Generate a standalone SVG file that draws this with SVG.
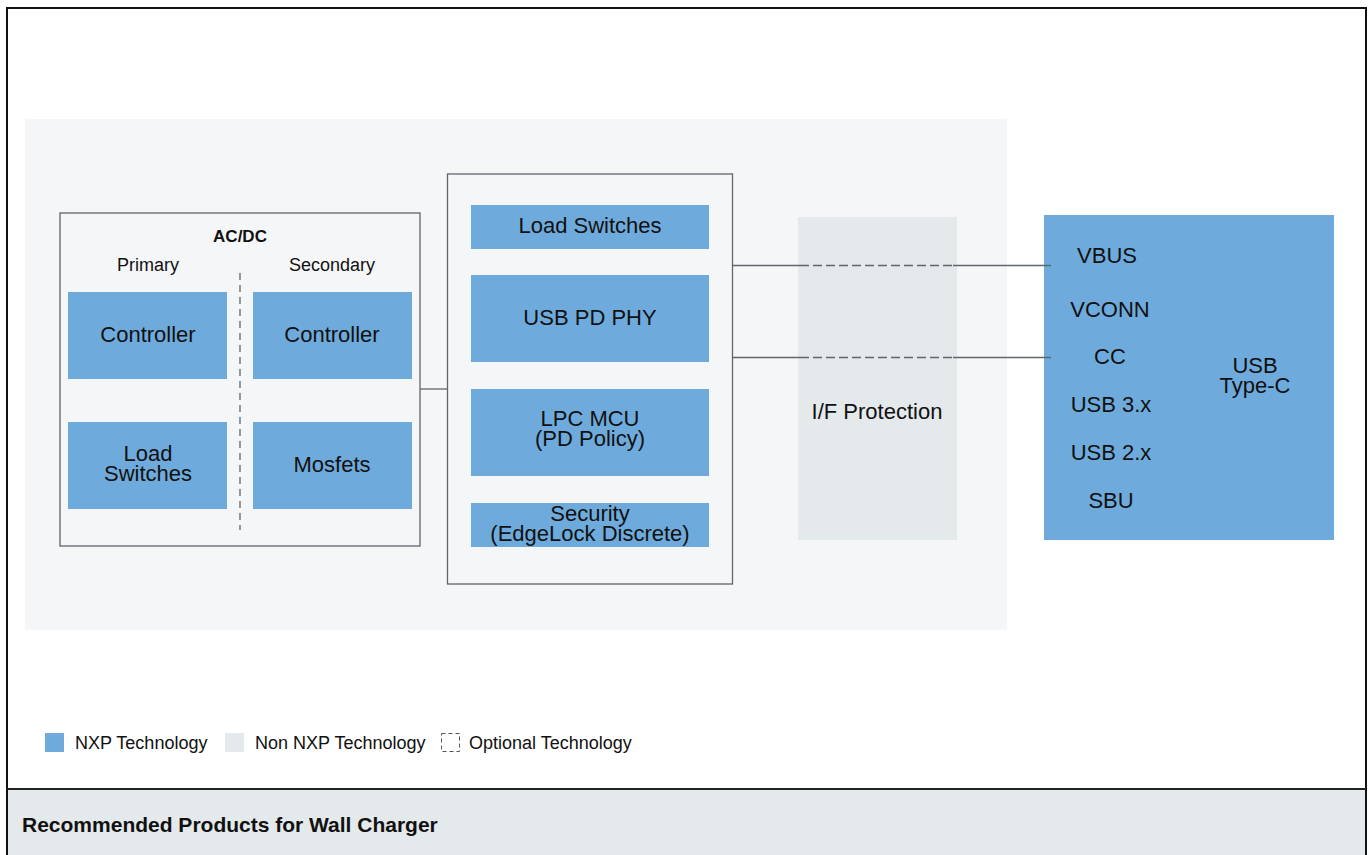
<svg xmlns="http://www.w3.org/2000/svg" width="1369" height="855" viewBox="0 0 1369 855">
<style>
text{font-family:"Liberation Sans",Arial,sans-serif;fill:#111;}
.nxp{fill:#6eabdc;}
.non{fill:#e4e9ec;}
.frame{fill:none;stroke:#5f666d;stroke-width:1.3;}
.lbl{font-size:22px;text-anchor:middle;}
.sm{font-size:18px;text-anchor:middle;}
.leg{font-size:18px;}
.conn{stroke:#5f666d;stroke-width:1.3;fill:none;}
.dash{stroke:#5f666d;stroke-width:1.3;fill:none;stroke-dasharray:9,4;}
</style>
<rect x="0" y="0" width="1369" height="855" fill="#fff"/>
<rect x="7" y="790" width="1359" height="65" fill="#e4e9ec"/>
<path d="M7,855 V8 H1366 V855" fill="none" stroke="#111" stroke-width="2"/>
<line x1="7" y1="789" x2="1366" y2="789" stroke="#222" stroke-width="1.8"/>
<rect x="25" y="119" width="982" height="511" fill="#f5f6f8"/>

<g id="acdc">
<rect x="60" y="213" width="360" height="333" class="frame"/>
<text x="240" y="242" style="font-size:17px;font-weight:bold;text-anchor:middle">AC/DC</text>
<text x="148" y="271" class="sm">Primary</text>
<text x="332" y="271" class="sm">Secondary</text>
<line x1="240" y1="273" x2="240" y2="530" class="dash" style="stroke-dasharray:7,5"/>
</g>
<g id="pri-controller"><rect x="68" y="292" width="159" height="87" class="nxp"/><text x="148" y="342" class="lbl">Controller</text></g>
<g id="sec-controller"><rect x="253" y="292" width="159" height="87" class="nxp"/><text x="332" y="342" class="lbl">Controller</text></g>
<g id="pri-load"><rect x="68" y="422" width="159" height="87" class="nxp"/><text x="148" y="461" class="lbl">Load</text><text x="148" y="481" class="lbl">Switches</text></g>
<g id="mosfets"><rect x="253" y="422" width="159" height="87" class="nxp"/><text x="332" y="472" class="lbl">Mosfets</text></g>

<g id="mcu-group">
<rect x="447.5" y="174" width="285" height="410" class="frame"/>
</g>
<g id="load-switches"><rect x="471" y="205" width="238" height="44" class="nxp"/><text x="590" y="233" class="lbl">Load Switches</text></g>
<g id="usb-pd-phy"><rect x="471" y="275" width="238" height="87" class="nxp"/><text x="590" y="325" class="lbl">USB PD PHY</text></g>
<g id="lpc-mcu"><rect x="471" y="389" width="238" height="87" class="nxp"/><text x="590" y="426" class="lbl">LPC MCU</text><text x="590" y="446" class="lbl">(PD Policy)</text></g>
<g id="security"><rect x="471" y="503" width="238" height="44" class="nxp"/><text x="590" y="521" class="lbl">Security</text><text x="590" y="541" class="lbl">(EdgeLock Discrete)</text></g>

<g id="if-protection"><rect x="798" y="217" width="159" height="323" class="non"/><text x="877" y="419" class="lbl">I/F Protection</text></g>

<g id="usb-typec">
<rect x="1044" y="215" width="290" height="325" class="nxp"/>
<text x="1107" y="263" class="lbl">VBUS</text>
<text x="1110" y="317" class="lbl">VCONN</text>
<text x="1110" y="364" class="lbl">CC</text>
<text x="1111" y="412" class="lbl">USB 3.x</text>
<text x="1111" y="460" class="lbl">USB 2.x</text>
<text x="1111" y="508" class="lbl">SBU</text>
<text x="1255" y="373" class="lbl">USB</text>
<text x="1255" y="393" class="lbl">Type-C</text>
</g>

<g id="connectors">
<line x1="420" y1="389" x2="447.5" y2="389" class="conn"/>
<line x1="732.5" y1="265.5" x2="800" y2="265.5" class="conn"/>
<line x1="800" y1="265.5" x2="953" y2="265.5" class="dash"/>
<line x1="953" y1="265.5" x2="1051" y2="265.5" class="conn"/>
<line x1="732.5" y1="357.5" x2="800" y2="357.5" class="conn"/>
<line x1="800" y1="357.5" x2="953" y2="357.5" class="dash"/>
<line x1="953" y1="357.5" x2="1051" y2="357.5" class="conn"/>
</g>

<g id="legend">
<rect x="45" y="733" width="19" height="19" class="nxp"/>
<text x="75" y="749" class="leg">NXP Technology</text>
<rect x="225" y="733" width="19" height="19" class="non"/>
<text x="255" y="749" class="leg">Non NXP Technology</text>
<rect x="441.5" y="733.5" width="18" height="18" fill="none" stroke="#555" stroke-width="1" stroke-dasharray="4,3"/>
<text x="469" y="749" class="leg">Optional Technology</text>
</g>
<text x="22" y="832" style="font-size:21px;font-weight:bold">Recommended Products for Wall Charger</text>
</svg>
